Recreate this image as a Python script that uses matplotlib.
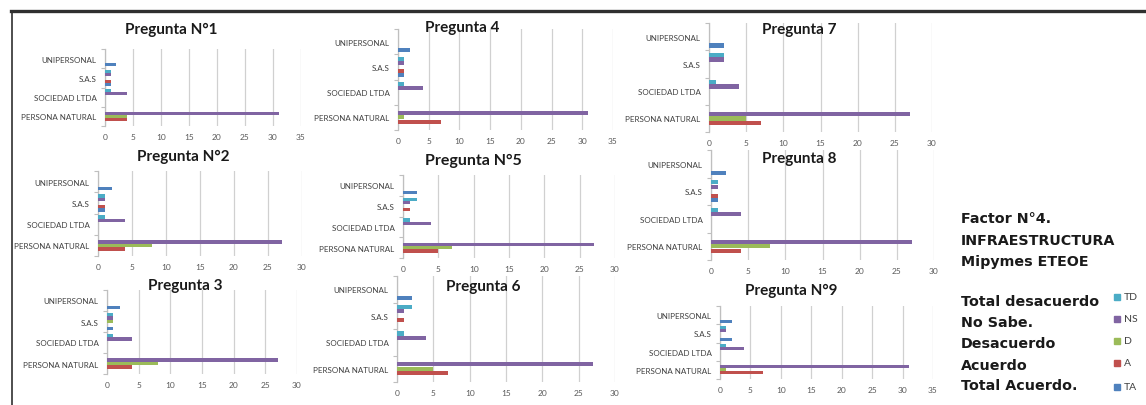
import matplotlib
matplotlib.use("Agg")
import matplotlib.pyplot as plt
from matplotlib.lines import Line2D
from matplotlib.patches import Rectangle
import numpy as np

plt.rcParams['font.family'] = ['Lato', 'DejaVu Sans']

# ---------------- data ----------------
categories = ["PERSONA NATURAL", "SOCIEDAD LTDA", "S.A.S", "UNIPERSONAL"]
series = ["TA", "A", "D", "NS", "TD"]
series_colors = ["#4F81BD", "#C0504D", "#9BBB59", "#8064A2", "#4BACC6"]
legend_order = ["TD", "NS", "D", "A", "TA"]
legend_desc = ["Total desacuerdo", "No Sabe.", "Desacuerdo", "Acuerdo", "Total Acuerdo."]
factor_lines = ["Factor N°4.", "INFRAESTRUCTURA", "Mipymes ETEOE"]

# values per series (TA, A, D, NS, TD), each over categories above
q1 = [[0, 0, 1, 2], [4, 0, 1, 0], [4, 0, 0, 0], [31, 4, 1, 0], [0, 1, 1, 0]]
q2 = [[0, 0, 1, 2], [4, 0, 1, 0], [8, 0, 0, 0], [27, 4, 1, 0], [0, 1, 1, 0]]
q3 = [[0, 0, 1, 2], [4, 0, 0, 0], [8, 0, 1, 0], [27, 4, 1, 0], [0, 1, 1, 0]]
q4 = [[0, 0, 1, 2], [7, 0, 1, 0], [1, 0, 0, 0], [31, 4, 1, 0], [0, 1, 1, 0]]
q5 = [[0, 0, 0, 2], [5, 0, 1, 0], [7, 0, 0, 0], [27, 4, 1, 0], [0, 1, 2, 0]]
q6 = [[0, 0, 0, 2], [7, 0, 1, 0], [5, 0, 0, 0], [27, 4, 1, 0], [0, 1, 2, 0]]
q7 = [[0, 0, 0, 2], [7, 0, 0, 0], [5, 0, 0, 0], [27, 4, 2, 0], [0, 1, 2, 0]]
q8 = [[0, 0, 1, 2], [4, 0, 1, 0], [8, 0, 0, 0], [27, 4, 1, 0], [0, 1, 1, 0]]
q9 = [[0, 0, 2, 2], [7, 0, 0, 0], [1, 0, 0, 0], [31, 4, 1, 0], [0, 1, 1, 0]]

titles = ["Pregunta N°1", "Pregunta 4", "Pregunta 7",
          "Pregunta N°2", "Pregunta N°5", "Pregunta 8",
          "Pregunta 3", "Pregunta 6", "Pregunta N°9"]
xmaxes = [35, 35, 30, 30, 30, 30, 30, 30, 35]

# ---------------- layout (pixels) ----------------
W, H = 1146, 406
fig = plt.figure(figsize=(W / 100, H / 100), dpi=100)
fig.patch.set_facecolor("white")

# (x0, x1, ytop, ybottom) of plot area, title center (x, y), title size
layout = [
    (105, 301, 50, 127, 171, 30, 11),
    (398, 613, 30, 131, 462, 28, 11),
    (709, 932, 24, 133, 799, 30, 11),
    (98, 302, 172, 257, 183, 157, 11),
    (403, 615, 176, 259, 473, 161, 11.5),
    (711, 934, 151, 261, 799, 159, 11),
    (107, 297, 291, 375, 185, 286, 11),
    (397, 615, 277, 383, 483, 287, 11),
    (720, 933, 307, 380, 791, 291, 11),
]
data = [q1, q4, q7, q2, q5, q8, q3, q6, q9]


def px_rect(x0, x1, yt, yb):
    return [x0 / W, 1 - yb / H, (x1 - x0) / W, (yb - yt) / H]


ypos = np.arange(len(categories))
bh = 0.165
for (x0, x1, yt, yb, tx, ty, tfs), q, title, xm in zip(layout, data, titles, xmaxes):
    ax = fig.add_axes(px_rect(x0, x1, yt, yb))
    for i, (vals, col) in enumerate(zip(q, series_colors)):
        ax.barh(ypos + (i - 2) * bh, vals, height=bh * 0.95, color=col, zorder=3)
    ax.set_xlim(0, xm)
    ax.set_ylim(-0.5, len(categories) - 0.5)
    ax.set_xticks(np.arange(0, xm + 1, 5))
    ax.set_yticks(ypos)
    ax.set_yticklabels(categories)
    ax.set_yticks(np.arange(-0.5, len(categories)), minor=True)
    ax.tick_params(axis="y", which="major", length=0, labelsize=5.8,
                   labelcolor="#404040", pad=6)
    ax.tick_params(axis="y", which="minor", length=3, color="#BFBFBF", width=0.8)
    ax.tick_params(axis="x", length=0, labelsize=6, labelcolor="#595959", pad=5)
    ax.grid(axis="x", color="#D0D0D0", linewidth=0.9, zorder=0)
    for s in ["top", "right", "bottom"]:
        ax.spines[s].set_visible(False)
    ax.spines["left"].set_color("#BFBFBF")
    ax.spines["left"].set_linewidth(0.9)
    ax.set_facecolor("none")
    fig.text(tx / W, 1 - ty / H, title, ha="center", va="center",
             fontsize=tfs, fontweight="bold", color="#1a1a1a")

# frame lines
fig.add_artist(Line2D([11 / W, 1], [1 - 11.5 / H, 1 - 11.5 / H], color="#303030", lw=2.4))
fig.add_artist(Line2D([11.5 / W, 11.5 / W], [0, 1 - 11.5 / H], color="#303030", lw=1.2))

# right-side text
for txt, y in zip(factor_lines, [219, 241, 262]):
    fig.text(961 / W, 1 - y / H, txt, ha="left", va="center", fontsize=10.3,
             fontweight="bold", color="#1a1a1a", family="DejaVu Sans")
for txt, y in zip(legend_desc, [302, 323, 344, 366, 386]):
    fig.text(961 / W, 1 - y / H, txt, ha="left", va="center", fontsize=10.3,
             fontweight="bold", color="#1a1a1a", family="DejaVu Sans")

# legend markers
for lab, y in zip(legend_order, [298, 320, 342, 364, 388]):
    col = series_colors[series.index(lab)]
    fig.add_artist(Rectangle(((1114) / W, 1 - (y + 3) / H), 6 / W, 6 / H,
                             color=col, transform=fig.transFigure))
    fig.text(1124 / W, 1 - y / H, lab, ha="left", va="center", fontsize=7.5,
             color="#404040")

fig.savefig("out.png", dpi=100, facecolor="white")
